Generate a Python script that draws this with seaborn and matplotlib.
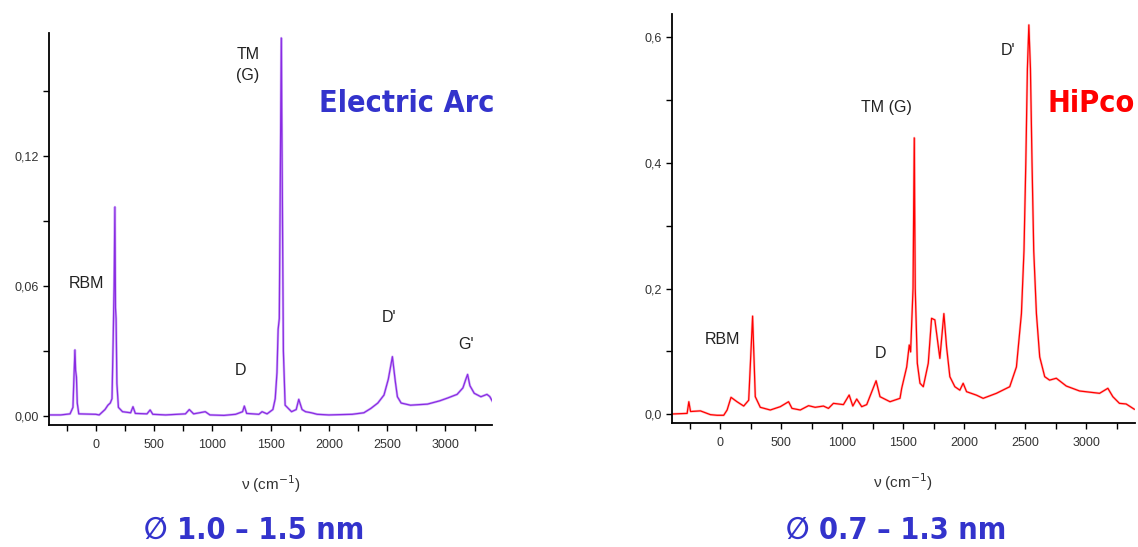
import numpy as np
import pandas as pd
import matplotlib
matplotlib.use("Agg")
import matplotlib.pyplot as plt
import seaborn as sns

# Raman spectrum
arc_wavenumber = [-400, -300, -220, -195, -185, -178, -172, -165, -158, -145,
                  0, 30, 80, 105, 125, 140, 150, 158, 165, 170, 175, 182, 195, 230,
                  300, 320, 340, 440, 467, 490, 600, 700, 770, 803, 840, 940, 980,
                  1100, 1200, 1260, 1275, 1295, 1400, 1427, 1470, 1520, 1540, 1555,
                  1565, 1575, 1585, 1592, 1600, 1610, 1625, 1680, 1720, 1742, 1770,
                  1800, 1850, 1900, 2000, 2200, 2300, 2360, 2420, 2473, 2510, 2545,
                  2570, 2588, 2620, 2700, 2846, 2950, 3018, 3100, 3150, 3175, 3190,
                  3210, 3247, 3304, 3356, 3380, 3405]
arc_intensity = [0.0005, 0.0005, 0.001, 0.004, 0.020, 0.0305, 0.021, 0.018, 0.006, 0.001,
                 0.0008, 0.0005, 0.003, 0.005, 0.006, 0.008, 0.035, 0.060, 0.0965, 0.050, 0.045, 0.015, 0.004, 0.002,
                 0.0015, 0.0043, 0.0012, 0.001, 0.0028, 0.0008, 0.0005, 0.0008, 0.001, 0.003, 0.001, 0.002, 0.0005,
                 0.0003, 0.0008, 0.002, 0.0046, 0.0012, 0.0008, 0.002, 0.001, 0.003, 0.008, 0.020,
                 0.040, 0.045, 0.120, 0.1745, 0.110, 0.030, 0.005, 0.002, 0.003, 0.0077, 0.003,
                 0.002, 0.0015, 0.0008, 0.0005, 0.0008, 0.0015, 0.0035, 0.006, 0.0097, 0.017, 0.0274,
                 0.016, 0.0089, 0.006, 0.005, 0.0055, 0.007, 0.0083, 0.010, 0.013, 0.017, 0.0192,
                 0.014, 0.0105, 0.0089, 0.010, 0.009, 0.0066]

# Raman spectrum
hipco_wavenumber = [-400, -273, -259, -245, -164, -82, -27, 27, 55, 87, 136, 191, 232,
                    264, 286, 327, 409, 491, 559, 587, 655, 723, 777, 845, 886, 927,
                    968, 1009, 1056, 1086, 1118, 1159, 1200, 1277, 1309, 1391, 1473,
                    1487, 1528, 1549, 1560, 1580, 1590, 1598, 1615, 1637, 1664, 1705,
                    1732, 1759, 1800, 1833, 1855, 1882, 1923, 1964, 1991, 2019, 2101,
                    2155, 2264, 2373, 2428, 2469, 2490, 2505, 2518, 2530, 2543, 2556,
                    2570, 2592, 2619, 2660, 2700, 2755, 2837, 2946, 3110, 3178, 3219,
                    3273, 3328, 3396]
hipco_intensity = [0.0, 0.001, 0.0196, 0.004, 0.005, -0.001, -0.002, -0.002, 0.0064, 0.0266, 0.0196, 0.0127, 0.022,
                   0.156, 0.0276, 0.0107, 0.0064, 0.0117, 0.0196, 0.009, 0.0064, 0.0133, 0.0107, 0.0127, 0.009, 0.017,
                   0.016, 0.015, 0.0303, 0.0127, 0.0239, 0.0117, 0.015, 0.053, 0.0276, 0.0196, 0.025,
                   0.041, 0.075, 0.110, 0.099, 0.200, 0.440, 0.200, 0.081, 0.049, 0.0435, 0.081,
                   0.1525, 0.150, 0.0887, 0.160, 0.107, 0.0595, 0.0435, 0.038, 0.049, 0.0356, 0.030,
                   0.025, 0.033, 0.0435, 0.075, 0.160, 0.260, 0.400, 0.550, 0.620, 0.550, 0.400,
                   0.260, 0.160, 0.091, 0.0595, 0.054, 0.057, 0.0446, 0.0367, 0.033, 0.041, 0.0276,
                   0.017, 0.016, 0.0075]

x_ticks = [0, 500, 1000, 1500, 2000, 2500, 3000]
arc_yticks = [0.0, 0.06, 0.12]
arc_ytick_labels = ["0,00", "0,06", "0,12"]
hipco_yticks = [0.0, 0.2, 0.4, 0.6]
hipco_ytick_labels = ["0,0", "0,2", "0,4", "0,6"]

arc_labels = [("RBM", -77, 0.0614), ("TM\n(G)", 1307, 0.162), ("D", 1238, 0.0208),
              ("D'", 2519, 0.0457), ("G'", 3173, 0.0328)]
hipco_labels = [("RBM", 16, 0.1195), ("D", 1309, 0.097), ("TM (G)", 1358, 0.4877),
                ("D'", 2357, 0.58)]

sns.set_style("ticks")
plt.rcParams["font.family"] = ["Liberation Sans", "DejaVu Sans"]
BLUE = "#3333cc"
# condensed bold for the big captions
BIG = dict(family="DejaVu Sans", fontstretch="condensed", fontweight="bold",
           ha="center", va="center")

arc = pd.DataFrame({"wavenumber": arc_wavenumber, "intensity": arc_intensity})
hipco = pd.DataFrame({"wavenumber": hipco_wavenumber, "intensity": hipco_intensity})

fig = plt.figure(figsize=(11.38, 5.47), dpi=100)
ax1 = fig.add_axes([0.0431, 0.2230, 0.3893, 0.7166])
ax2 = fig.add_axes([0.5902, 0.2267, 0.4071, 0.7477])

sns.lineplot(data=arc, x="wavenumber", y="intensity", ax=ax1,
             color="#d2b4fa", linewidth=1.8)
sns.lineplot(data=arc, x="wavenumber", y="intensity", ax=ax1,
             color="#8a2be2", linewidth=0.9)
sns.lineplot(data=hipco, x="wavenumber", y="intensity", ax=ax2,
             color="#ffc0c0", linewidth=1.8)
sns.lineplot(data=hipco, x="wavenumber", y="intensity", ax=ax2,
             color="#ff0000", linewidth=0.9)

setups = [(ax1, arc_yticks, arc_ytick_labels, (-0.00415, 0.1768), [0.03, 0.09, 0.15], arc_labels),
          (ax2, hipco_yticks, hipco_ytick_labels, (-0.0143, 0.6374), [0.1, 0.3, 0.5], hipco_labels)]
for ax, yt, ytl, ylim, yminor, labels in setups:
    ax.set_xlim(-400, 3400)
    ax.set_ylim(*ylim)
    ax.set_xticks(x_ticks)
    ax.set_xticklabels([str(t) for t in x_ticks])
    ax.set_xticks([-250, 250, 750, 1250, 1750, 2250, 2750, 3250], minor=True)
    ax.set_yticks(yt)
    ax.set_yticklabels(ytl)
    ax.set_yticks(yminor, minor=True)
    ax.tick_params(which="both", direction="out", length=4, width=1, color="black",
                   labelsize=9, labelcolor="#333333")
    ax.tick_params(axis="x", pad=6)
    ax.tick_params(axis="y", pad=3)
    for side in ["left", "bottom"]:
        ax.spines[side].set_linewidth(1.3)
        ax.spines[side].set_color("black")
    sns.despine(ax=ax)
    ax.set_xlabel("ν (cm$^{-1}$)", fontsize=11, color="#333333", labelpad=16)
    ax.set_ylabel("")
    for txt, x, y in labels:
        ax.text(x, y, txt, ha="center", va="center", fontsize=11.5, color="#222222",
                linespacing=1.5)

fig.text(0.357, 0.8117, "Electric Arc", color=BLUE, fontsize=22, **BIG)
fig.text(0.9587, 0.8117, "HiPco", color="#ff0000", fontsize=22, **BIG)
fig.text(0.2232, 0.031, "∅ 1.0 – 1.5 nm", color=BLUE, fontsize=22, **BIG)
fig.text(0.7873, 0.031, "∅ 0.7 – 1.3 nm", color=BLUE, fontsize=22, **BIG)

plt.savefig("out.png", dpi=100)
plt.close()
